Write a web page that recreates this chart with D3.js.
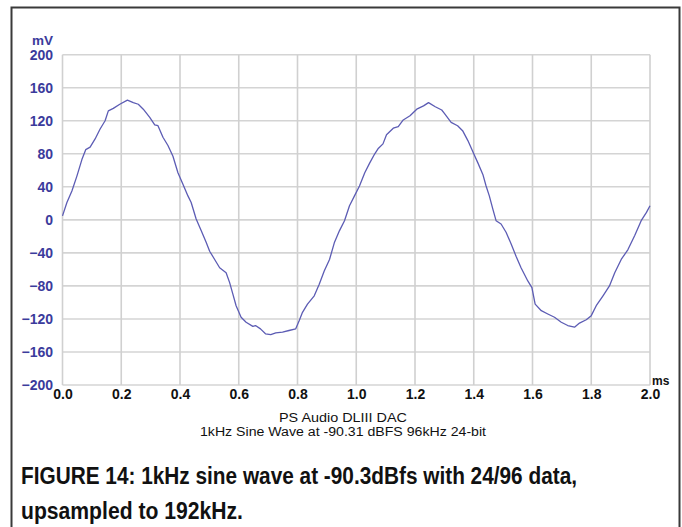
<!DOCTYPE html>
<html>
<head>
<meta charset="utf-8">
<script src="https://cdn.jsdelivr.net/npm/d3@7"></script>
<style>
html,body{margin:0;padding:0;background:#fff;}
svg{display:block;}
</style>
</head>
<body>
<svg id="chart" width="682" height="527"></svg>
<script>
// time (ms)
const timeMs = [0.000,0.015,0.032,0.049,0.066,0.079,0.094,0.111,0.128,0.145,0.156,0.173,0.195,0.221,0.241,0.258,0.275,0.297,0.314,0.325,0.342,0.359,0.376,0.393,0.410,0.427,0.438,0.455,0.472,0.489,0.501,0.518,0.535,0.557,0.569,0.580,0.591,0.608,0.625,0.648,0.657,0.674,0.691,0.709,0.726,0.749,0.771,0.794,0.806,0.817,0.834,0.857,0.874,0.891,0.909,0.926,0.943,0.960,0.977,0.994,1.011,1.029,1.046,1.063,1.074,1.091,1.103,1.126,1.143,1.160,1.183,1.206,1.229,1.246,1.269,1.291,1.300,1.323,1.345,1.362,1.380,1.400,1.414,1.431,1.442,1.453,1.465,1.476,1.493,1.510,1.527,1.544,1.561,1.584,1.598,1.609,1.630,1.652,1.675,1.698,1.720,1.743,1.760,1.783,1.800,1.817,1.840,1.862,1.880,1.902,1.925,1.948,1.970,1.988,2.000];
// amplitude (mV)
const valueMv = [4.8,21,35,53,73,85,88,98,110,120,132,135,140,145,142,140,134,124,115,114,100,90,77,57,43,29,21,1,-13,-27,-38,-48,-58,-64,-76,-90,-104,-118,-124,-129,-128,-132,-138,-139,-137,-136,-134,-132,-122,-112,-102,-92,-78,-62,-48,-27,-13,-1,17,29,41,57,69,80,86,92,103,111,113,121,126,134,138,142,137,133,129,118,114,108,96,80,69,55,41,29,13,-1,-5,-15,-29,-44,-58,-74,-82,-102,-110,-114,-118,-124,-128,-130,-125,-121,-116,-104,-92,-80,-64,-48,-36,-19,-1,9,17];
const yTicks = [-200,-160,-120,-80,-40,0,40,80,120,160,200];
const xTicks = [0.0,0.2,0.4,0.6,0.8,1.0,1.2,1.4,1.6,1.8,2.0];
const yUnit = "mV";
const xUnit = "ms";
const titleLines = ["PS Audio DLIII DAC","1kHz Sine Wave at -90.31 dBFS 96kHz 24-bit"];
const captionLines = ["FIGURE 14: 1kHz sine wave at -90.3dBfs with 24/96 data,","upsampled to 192kHz."];

const data = timeMs.map((t,i)=>({t, v:valueMv[i]}));
const svg = d3.select("#chart");

// outer frame
svg.append("rect").attr("x",11.5).attr("y",7.5).attr("width",668).attr("height",530)
  .attr("fill","none").attr("stroke","#3a3a3a").attr("stroke-width",2);

const x = d3.scaleLinear().domain([0,2]).range([62.5,650]);
const y = d3.scaleLinear().domain([-200,200]).range([385,54.7]);

// grid
const grid = svg.append("g");
grid.selectAll("line.h").data(yTicks).join("line")
  .attr("x1",x(0)).attr("x2",x(2)).attr("y1",d=>y(d)).attr("y2",d=>y(d))
  .attr("stroke","#d4d4d4").attr("stroke-width",1.6);
grid.selectAll("line.v").data(xTicks).join("line")
  .attr("y1",y(-200)).attr("y2",y(200)).attr("x1",d=>x(d)).attr("x2",d=>x(d))
  .attr("stroke","#d0d0d0").attr("stroke-width",1.6);

// y axis labels
const yAxis = d3.axisLeft(y).tickValues(yTicks).tickSize(0).tickPadding(0).tickFormat(d3.format("d"));
const yg = svg.append("g").attr("transform","translate(53,0)").call(yAxis);
yg.select(".domain").remove();
yg.selectAll("text").attr("font-family","Liberation Sans, Arial, sans-serif")
  .attr("font-weight","bold").attr("font-size","14px").attr("fill","#3b3b9c").attr("dy","0.35em");

// x axis labels
const xAxis = d3.axisBottom(x).tickValues(xTicks).tickSize(0).tickPadding(0).tickFormat(d3.format(".1f"));
const xg = svg.append("g").attr("transform","translate(0,389)").call(xAxis);
xg.select(".domain").remove();
xg.selectAll("text").attr("font-family","Liberation Sans, Arial, sans-serif")
  .attr("font-weight","bold").attr("font-size","14px").attr("fill","#111").attr("dy","0.71em");

// units
svg.append("text").attr("x",53).attr("y",45).attr("text-anchor","end")
  .attr("font-family","Liberation Sans, Arial, sans-serif").attr("font-weight","bold")
  .attr("font-size","13.5px").attr("fill","#3b3b9c").text(yUnit);
svg.append("text").attr("x",652).attr("y",385)
  .attr("font-family","Liberation Sans, Arial, sans-serif").attr("font-weight","bold")
  .attr("font-size","12px").attr("fill","#111").text(xUnit);

// titles
svg.selectAll("text.title").data(titleLines).join("text").attr("class","title")
  .attr("x",343).attr("y",(d,i)=>422+i*14).attr("text-anchor","middle")
  .attr("font-family","Liberation Sans, Arial, sans-serif").attr("font-size","12.5px").attr("fill","#111")
  .attr("textLength",(d,i)=>i===0?128:286).attr("lengthAdjust","spacingAndGlyphs")
  .text(d=>d);

// line
const line = d3.line().x(d=>x(d.t)).y(d=>y(d.v));
svg.append("path").datum(data).attr("d",line).attr("fill","none")
  .attr("stroke","#5c5cb4").attr("stroke-width",1.3).attr("stroke-linejoin","round");

// caption
svg.selectAll("text.cap").data(captionLines).join("text").attr("class","cap")
  .attr("x",21).attr("y",(d,i)=>484+i*35)
  .attr("font-family","Liberation Sans Narrow, Arial Narrow, Liberation Sans, Arial, sans-serif")
  .attr("font-weight","bold").attr("font-size","23px").attr("fill","#111")
  .attr("textLength",(d,i)=>i===0?556:222).attr("lengthAdjust","spacingAndGlyphs")
  .text(d=>d);
</script>
</body>
</html>
